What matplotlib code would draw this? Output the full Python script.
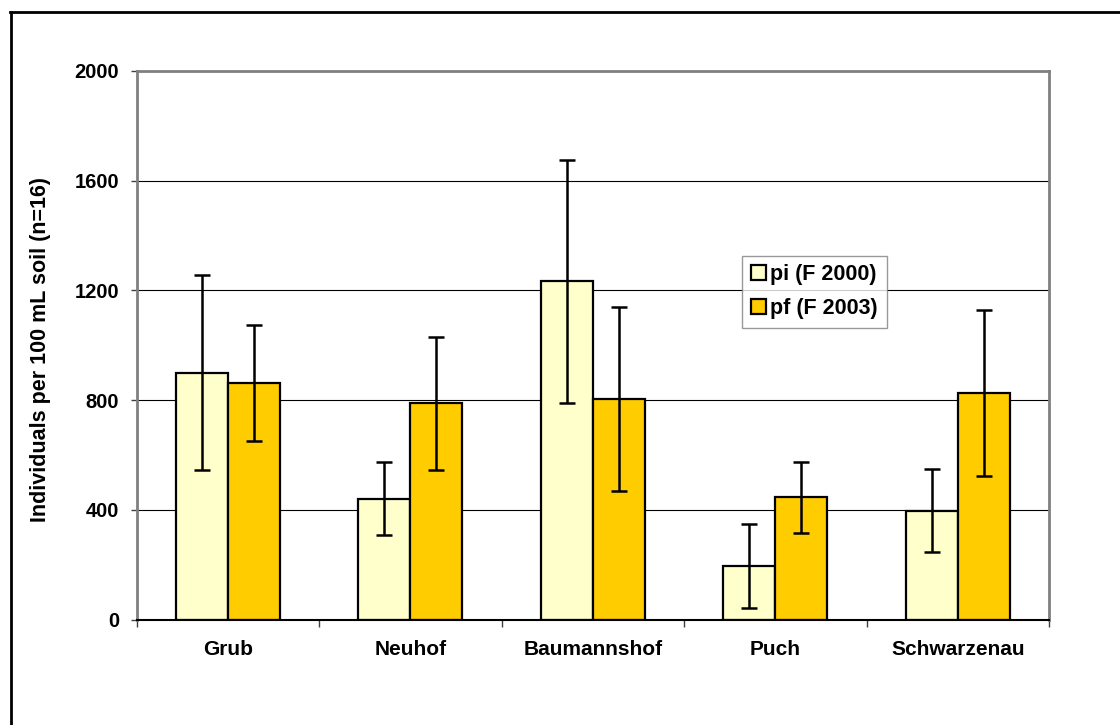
import matplotlib
matplotlib.use("Agg")
import matplotlib.pyplot as plt
from matplotlib.lines import Line2D
import numpy as np

# data
sites = ['Grub', 'Neuhof', 'Baumannshof', 'Puch', 'Schwarzenau']
pi_mean = [900, 441, 1233, 196, 397]
pi_err = [355, 132, 444, 153, 150]
pf_mean = [862, 788, 804, 446, 826]
pf_err = [212, 242, 336, 130, 301]
yticks = [0, 400, 800, 1200, 1600, 2000]

plt.rcParams['font.family'] = ['Liberation Sans', 'DejaVu Sans']
plt.rcParams['font.weight'] = 'bold'

W, H = 1120, 725
fig = plt.figure(figsize=(W / 100, H / 100), dpi=100)
ax = fig.add_axes([136.5 / W, 1 - 619.5 / H, 912.5 / W, 548.5 / H])

x = np.arange(len(sites))
bw = 0.286

ax.bar(x - bw / 2, pi_mean, bw, color='#FFFFCC', edgecolor='black', linewidth=1.6,
       label='pi (F 2000)', zorder=2)
ax.bar(x + bw / 2, pf_mean, bw, color='#FFCC00', edgecolor='black', linewidth=1.6,
       label='pf (F 2003)', zorder=2)
ax.errorbar(x - bw / 2, pi_mean, yerr=pi_err, fmt='none', ecolor='black',
            elinewidth=1.8, capsize=6, capthick=1.8, zorder=3)
ax.errorbar(x + bw / 2, pf_mean, yerr=pf_err, fmt='none', ecolor='black',
            elinewidth=1.8, capsize=6, capthick=1.8, zorder=3)

ax.set_xlim(-0.5, len(sites) - 0.5)
ax.set_ylim(0, 2000)
ax.set_yticks(yticks)
ax.set_yticklabels([str(v) for v in yticks], fontsize=14.5, fontweight='bold')
ax.tick_params(axis='y', direction='out', length=4.5, width=1, color='#404040', pad=8)

# category labels at centres, tick marks at the boundaries
ax.set_xticks(x)
ax.set_xticklabels(sites, fontsize=15, fontweight='bold')
ax.tick_params(axis='x', which='major', length=0, pad=15)
ax.set_xticks(np.arange(len(sites) + 1) - 0.5, minor=True)
ax.tick_params(axis='x', which='minor', direction='out', length=5, width=1, color='#404040')

ax.yaxis.grid(True, color='black', linewidth=0.8)
ax.set_axisbelow(True)

for side in ['top', 'right', 'left']:
    ax.spines[side].set_color('#808080')
    ax.spines[side].set_linewidth(2)
ax.spines['bottom'].set_color('black')
ax.spines['bottom'].set_linewidth(1.5)

fig.text(40.5 / W, 1 - 350 / H, 'Individuals per 100 mL soil (n=16)', rotation=90,
         ha='center', va='center', fontsize=15.5, fontweight='bold')

leg = ax.legend(loc='upper left', bbox_to_anchor=(0.664, 0.663),
                frameon=True, fancybox=False, borderaxespad=0, borderpad=0.4,
                handlelength=0.7, handleheight=0.7, handletextpad=0.2,
                labelspacing=0.6, prop={'weight': 'bold', 'size': 15.5})
leg.get_frame().set_edgecolor('#808080')
leg.get_frame().set_linewidth(1)
for p in leg.get_patches():
    p.set_linewidth(1.6)

# outer border of the chart area
fig.add_artist(Line2D([10.5 / W, 10.5 / W], [0, 1 - 12 / H], transform=fig.transFigure,
                      color='black', linewidth=2))
fig.add_artist(Line2D([10 / W, 1], [1 - 12 / H, 1 - 12 / H], transform=fig.transFigure,
                      color='black', linewidth=2))

fig.savefig('out.png', dpi=100)
